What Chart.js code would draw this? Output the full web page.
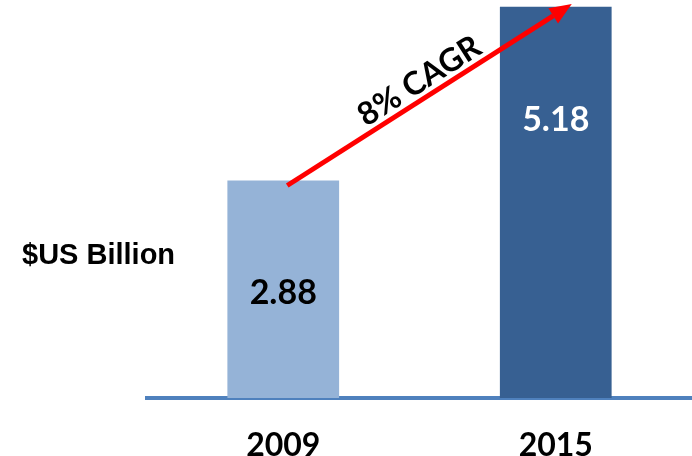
<!DOCTYPE html>
<html>
<head>
<meta charset="utf-8">
<script src="https://cdn.jsdelivr.net/npm/chart.js@4.4.0/dist/chart.umd.min.js"></script>
<style>
  html, body { margin: 0; padding: 0; background: #fff; }
  #wrap { width: 692px; height: 456px; }
</style>
</head>
<body>
<div id="wrap"><canvas id="myChart" width="692" height="456"></canvas></div>
<script>
'use strict';

// chart data
let years = ['2009', '2015'];
let marketSize = [2.88, 5.18];
let barColors = ['#95B3D7', '#376092'];
let labelColors = ['#000000', '#ffffff'];
let unitLabel = '$US Billion';
let growthLabel = '8% CAGR';

// draws value labels, unit label and the CAGR arrow
let annotations = {
  id: 'annotations',
  afterDatasetsDraw(chart) {
    let ctx = chart.ctx;
    let meta = chart.getDatasetMeta(0);
    ctx.save();

    // values inside the bars
    ctx.textAlign = 'center';
    ctx.textBaseline = 'middle';
    ctx.font = 'bold 34px Lato';
    for (let i = 0; i < meta.data.length; i++) {
      let bar = meta.data[i];
      ctx.fillStyle = labelColors[i];
      ctx.fillText(marketSize[i].toFixed(2), bar.x, bar.y + 113);
    }

    // unit label on the left
    ctx.fillStyle = '#000';
    ctx.textAlign = 'left';
    ctx.font = 'bold 29px "Liberation Sans"';
    ctx.fillText(unitLabel, 22, 256);

    // growth arrow from first bar to above the last one
    let first = meta.data[0];
    let last = meta.data[meta.data.length - 1];
    let x1 = first.x + 4;
    let y1 = first.y + 5;
    let x2 = last.x + 16;
    let y2 = chart.chartArea.top + 4;
    let angle = Math.atan2(y2 - y1, x2 - x1);
    let headLen = 22;
    ctx.strokeStyle = '#ff0000';
    ctx.fillStyle = '#ff0000';
    ctx.lineWidth = 5;
    ctx.beginPath();
    ctx.moveTo(x1, y1);
    ctx.lineTo(x2 - headLen * Math.cos(angle), y2 - headLen * Math.sin(angle));
    ctx.stroke();
    ctx.beginPath();
    ctx.moveTo(x2, y2);
    ctx.lineTo(x2 - headLen * Math.cos(angle) + 9 * Math.sin(angle), y2 - headLen * Math.sin(angle) - 9 * Math.cos(angle));
    ctx.lineTo(x2 - headLen * Math.cos(angle) - 9 * Math.sin(angle), y2 - headLen * Math.sin(angle) + 9 * Math.cos(angle));
    ctx.closePath();
    ctx.fill();

    // CAGR text along the arrow
    let mx = (x1 + x2) / 2;
    let my = (y1 + y2) / 2;
    ctx.translate(mx + 5 + 28 * Math.sin(angle), my - 28 * Math.cos(angle) + 10);
    ctx.rotate(angle);
    ctx.fillStyle = '#000';
    ctx.textAlign = 'center';
    ctx.textBaseline = 'middle';
    ctx.font = 'bold 32px Lato';
    ctx.fillText(growthLabel, 0, 0);
    ctx.restore();
  }
};

let chartObject = {
  type: 'bar',
  data: {
    labels: years,
    datasets: [{
      data: marketSize,
      backgroundColor: barColors,
      borderWidth: 0,
      barPercentage: 0.82,
      categoryPercentage: 0.5
    }]
  },
  options: {
    responsive: false,
    animation: false,
    layout: {
      padding: { left: 147, right: 0, top: 0, bottom: 0 }
    },
    plugins: {
      legend: { display: false },
      tooltip: { enabled: false }
    },
    scales: {
      x: {
        grid: { display: false },
        border: { display: true, color: '#4F81BD', width: 4 },
        ticks: {
          color: '#000',
          font: { family: 'Lato', size: 32, weight: 'bold' },
          padding: 20
        },
        afterFit(scale) {
          scale.height = 58;
        }
      },
      y: {
        display: false,
        min: 0,
        max: 5.27
      }
    }
  },
  plugins: [annotations]
};

let ctx = document.getElementById('myChart').getContext('2d');
let myChart = new Chart(ctx, chartObject);
</script>
</body>
</html>
